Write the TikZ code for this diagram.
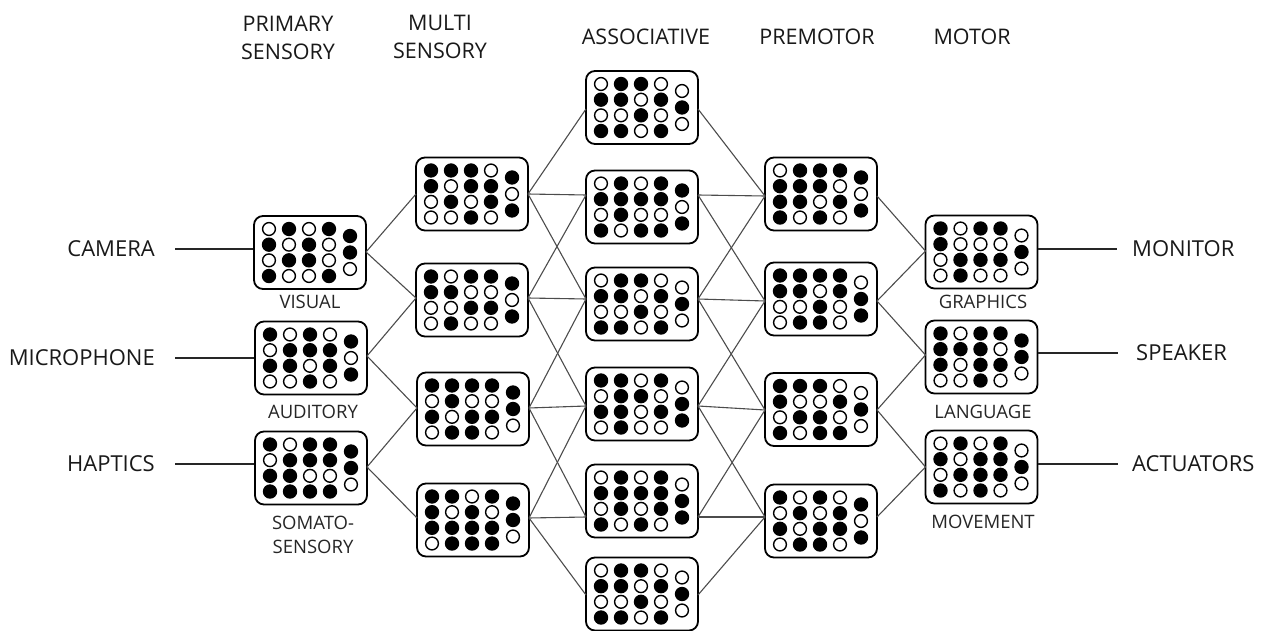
\documentclass[tikz,border=0pt]{standalone}
\usepackage{fontspec}
\setmainfont{Open Sans}
\begin{document}
\begin{tikzpicture}[x=1pt,y=-1pt,
  boxst/.style={draw=black,fill=white,line width=1.8pt,rounded corners=9pt,
    minimum width=112pt,minimum height=73pt,inner sep=0pt},
  opendot/.style={draw=black,fill=white,line width=1.4pt},
  conn/.style={draw=black!70,line width=1.1pt},
  ioline/.style={draw=black!85,line width=1.8pt},
  biglabel/.style={font=\fontsize{22}{26}\selectfont,text=black!90,inner sep=0pt},
  head/.style={font=\fontsize{21.5}{28}\selectfont,text=black!90,align=center,inner sep=0pt},
  sublabel/.style={font=\fontsize{18.5}{24}\selectfont,text=black!85,align=center,inner sep=0pt}]
\useasboundingbox (0,0) rectangle (1267,631);
\newcommand\dotbox[5]{%
  \node[boxst] (#1) at (#2,#3) {};
  \coordinate (#1-w) at (#2-56,#4);
  \coordinate (#1-e) at (#2+56,#4);
  \foreach \v [count=\i from 0] in {#5} {
    \ifnum\i<16
      \pgfmathsetmacro\dx{-41+20*mod(\i,4)}
      \pgfmathsetmacro\dy{-23.5+15.67*int(\i/4)}
    \else
      \pgfmathsetmacro\dx{40}
      \pgfmathsetmacro\dy{-16.5+16.5*(\i-16)}
    \fi
    \ifnum\v=1
      \fill[black] (#2+\dx,#3+\dy) circle[radius=7.2pt];
    \else
      \draw[opendot] (#2+\dx,#3+\dy) circle[radius=6.4pt];
    \fi
  }
}
% headers
\node[head] (h1) at (288,38) {PRIMARY\\SENSORY};
\node[head] (h2) at (440,37) {MULTI\\SENSORY};
\node[head] (h3) at (646,37) {ASSOCIATIVE};
\node[head] (h4) at (817,37) {PREMOTOR};
\node[head] (h5) at (972,37) {MOTOR};
% primary sensory
\dotbox{vis}{310}{252.5}{252}{0,1,0,1, 1,0,1,0, 0,1,1,0, 1,0,0,1, 1,1,0}
\dotbox{aud}{311}{358}{356}{1,0,1,0, 0,1,1,1, 1,1,0,1, 0,0,1,0, 1,0,1}
\dotbox{som}{311}{468}{467}{1,0,1,1, 0,1,1,1, 1,1,0,0, 1,1,1,1, 1,1,0}
% multi sensory
\dotbox{ms1}{472}{194}{194}{1,1,1,0, 1,0,1,1, 0,1,0,1, 0,0,1,0, 1,0,1}
\dotbox{ms2}{472}{300}{298}{1,0,1,1, 1,1,0,0, 0,0,1,1, 0,1,0,0, 1,0,1}
\dotbox{ms3}{473}{409}{408}{1,1,1,1, 0,1,0,0, 1,0,1,1, 0,1,1,0, 1,1,0}
\dotbox{ms4}{473}{520}{518}{1,1,0,1, 1,0,1,0, 1,1,1,1, 0,1,1,1, 1,1,0}
% associative
\dotbox{a1}{642}{107.5}{109}{0,1,1,0, 1,1,0,1, 0,0,1,0, 1,1,0,1, 0,1,0}
\dotbox{a2}{642}{207}{195}{0,1,0,1, 1,1,1,1, 0,1,0,0, 1,0,1,1, 1,0,1}
\dotbox{a3}{642}{304}{299}{0,1,1,0, 1,1,0,1, 0,0,1,0, 1,1,0,1, 0,1,0}
\dotbox{a4}{642}{404}{406}{1,1,0,1, 0,1,1,0, 1,1,0,1, 0,1,0,0, 0,1,1}
\dotbox{a5}{642}{501}{517}{0,1,0,1, 1,1,1,1, 0,1,0,1, 1,0,1,0, 0,1,1}
\dotbox{a6}{642}{594}{595}{0,1,1,0, 1,1,0,1, 0,0,1,0, 1,1,0,1, 0,1,0}
% premotor
\dotbox{pm1}{821}{194}{196}{0,1,1,1, 1,1,1,0, 1,1,0,1, 1,0,1,0, 1,0,1}
\dotbox{pm2}{821}{299}{301}{1,1,1,1, 1,1,0,1, 0,0,1,0, 0,1,1,0, 0,1,1}
\dotbox{pm3}{821}{409.5}{410}{1,1,1,0, 1,0,0,1, 0,1,1,0, 1,0,1,1, 0,1,0}
\dotbox{pm4}{821}{521}{517}{1,0,1,0, 0,1,0,1, 1,0,1,1, 0,1,1,0, 1,0,1}
% motor
\dotbox{gra}{981.5}{252}{251}{1,0,1,1, 1,0,0,0, 0,1,1,1, 0,1,0,0, 0,1,0}
\dotbox{lan}{981.5}{357}{355}{1,0,1,1, 1,1,1,0, 1,0,1,1, 0,0,1,0, 1,1,0}
\dotbox{mov}{981.5}{467}{467}{0,1,0,1, 1,0,1,1, 0,1,1,1, 1,0,1,0, 0,1,0}
% connectors
\foreach \a/\b in {vis/ms1, vis/ms2, aud/ms2, aud/ms3, som/ms3, som/ms4,
  ms1/a1, ms1/a2, ms1/a3, ms2/a2, ms2/a3, ms2/a4, ms3/a3, ms3/a4, ms3/a5,
  ms4/a4, ms4/a5, ms4/a6,
  a1/pm1, a2/pm1, a3/pm1, a2/pm2, a3/pm2, a4/pm2, a3/pm3, a4/pm3, a5/pm3,
  a4/pm4, a5/pm4, a6/pm4,
  pm1/gra, pm2/gra, pm2/lan, pm3/lan, pm3/mov, pm4/mov}
  \draw[conn] (\a-e) -- (\b-w);
% sub labels
\node[sublabel] (lvis) at (310,302) {VISUAL};
\node[sublabel] (laud) at (313,412) {AUDITORY};
\node[sublabel] (lsom) at (313,535) {SOMATO-\\SENSORY};
\node[sublabel] (lgra) at (983,302) {GRAPHICS};
\node[sublabel] (llan) at (983,412) {LANGUAGE};
\node[sublabel] (lmov) at (983,522) {MOVEMENT};
% inputs
\node[biglabel,anchor=east] (cam) at (155,249) {CAMERA};
\node[biglabel,anchor=east] (mic) at (155,358) {MICROPHONE};
\node[biglabel,anchor=east] (hap) at (155,464) {HAPTICS};
\coordinate (camL) at (175,249);
\coordinate (micL) at (175,358);
\coordinate (hapL) at (175,464);
\draw[ioline] (camL) -- (camL -| vis.west);
\draw[ioline] (micL) -- (micL -| aud.west);
\draw[ioline] (hapL) -- (hapL -| som.west);
% outputs
\node[biglabel,anchor=west] (mon) at (1132,249) {MONITOR};
\node[biglabel,anchor=west] (spk) at (1136,353) {SPEAKER};
\node[biglabel,anchor=west] (act) at (1132,464) {ACTUATORS};
\coordinate (monR) at (1117,249);
\coordinate (spkR) at (1118,353);
\coordinate (actR) at (1118,464);
\draw[ioline] (monR -| gra.east) -- (monR);
\draw[ioline] (spkR -| lan.east) -- (spkR);
\draw[ioline] (actR -| mov.east) -- (actR);
\end{tikzpicture}
\end{document}
